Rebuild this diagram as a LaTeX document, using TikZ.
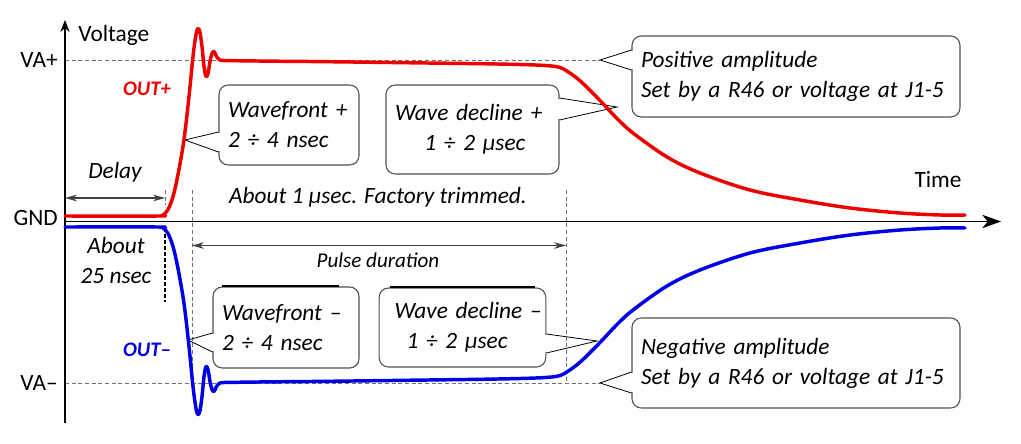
\documentclass[tikz,border=0pt]{standalone}
\usepackage{fontspec}
\setmainfont{Carlito}
\usetikzlibrary{arrows.meta, calc}
\definecolor{outred}{HTML}{EE0000}
\definecolor{outblue}{HTML}{0000E6}
\definecolor{guidegray}{HTML}{707070}
\definecolor{boxgray}{HTML}{505050}

% one pulse, x in px, height above GND in px (mirrored for OUT-)
\newcommand{\pulseshape}{plot[smooth, tension=0.55] coordinates {
  (65,5.5) (158,5.5) (163,6.5) (168,12) (173,25) (178,47) (184,82)
  (189,125) (193,165) (196,187) (198,193) (200,189) (202,175) (204,155)
  (206,145) (208,148) (210,160) (212,168) (214,170) (216,166) (219,162)
  (224,161) (235,160.8) (250,160.6) (275,160.3) (310,160) (360,159.4)
  (420,158.6) (480,157.8) (520,157) (545,156) (560,154) (572,147)
  (583,138) (600,121) (617,103) (633,88.5) (667,64.5) (700,48.5)
  (750,31.5) (800,21.5) (850,13.5) (900,8.5) (940,6.5) (965,6.5)}}

\begin{document}
\begin{tikzpicture}[
    x=0.75pt, y=-0.75pt,
    every node/.style={inner sep=0pt, font=\fontsize{17.5}{22.5}\selectfont},
    note/.style={font=\fontsize{17.5}{22.5}\selectfont\itshape},
    tag/.style={font=\fontsize{15.5}{18}\selectfont\bfseries\itshape},
    axis/.style={black, line width=1pt},
    guide/.style={guidegray, line width=0.7pt, dash pattern=on 3pt off 2pt},
    pulse/.style={line width=2.6pt, line cap=round, line join=round},
    span/.style={{Stealth[length=9pt, width=5pt]}-{Stealth[length=9pt, width=5pt]},
      black!75, line width=0.8pt},
    callout/.style={note, draw=boxgray, line width=0.8pt, rounded corners=7pt,
      align=left, inner ysep=0pt},
    ptr/.style={black, line width=0.6pt},
    erase/.style={white, line width=2pt},
  ]

  % Background / frame
  \useasboundingbox (0,0) rectangle (1021,443);

  % === Reference levels ===
  \coordinate (o) at (65,221.5);
  \coordinate (ytop) at (65,20);
  \coordinate (ybot) at (65,423);
  \coordinate (xend) at (1001,221.5);
  \coordinate (pos tip) at (600,60);
  \coordinate (neg tip) at (600,383);

  \draw[guide] (65,60) -- (pos tip);
  \draw[guide] (65,383) -- (neg tip);

  % pulse duration limits
  \coordinate (pd0) at (192,245.5);
  \coordinate (pd1) at (566,245.5);
  \draw[guide] (192,190) -- (192,380);
  \draw[guide] (566,190) -- (566,383);
  \draw[guide] (165,190) -- (165,205);

  % === Axes ===
  \draw[axis, -{Stealth[length=9pt, width=7pt, inset=3pt]}] (ybot) -- (ytop);
  \draw[axis, -{Stealth[length=14pt, width=10pt, inset=4pt]}] (o) -- (xend);

  \node[anchor=west] (voltage) at (78,35) {Voltage};
  \node (time) at (938,180) {Time};
  \node[anchor=east] (vaplus) at (58,60) {VA+};
  \node[anchor=east] (gnd) at (58,218) {GND};
  \node[anchor=east] (vaminus) at (58,383) {VA–};

  \node[tag, text=outred] (outp) at (147,89) {OUT+};
  \node[tag, text=outblue] (outm) at (147,350) {OUT–};

  % === Timing marks ===
  \coordinate (d0) at (65,198);
  \coordinate (d1) at (165,198);
  \draw[span] (d0) -- (d1);
  \node[note] (delay) at (115,172) {Delay};

  \node[note, align=center] (about25) at (116,260) {About\\25 nsec};
  \draw[black, line width=1.6pt, dash pattern=on 3pt off 1.5pt] (165,228) -- (165,302);

  \node[note] (trim) at (378,197) {About 1 µsec. Factory trimmed.};
  \draw[span] (pd0) -- (pd1);
  \node[note, font=\fontsize{15.8}{18}\selectfont\itshape] (pulse) at (378,260) {Pulse duration};

  % === Callouts ===
  % Wavefront + (pointer on the rising edge)
  \node[callout, text width=91.5pt, inner xsep=6.75pt, minimum height=60pt]
    (wfp) at (289,125) {\mbox{Wavefront +}\\2 ÷ 4 nsec};
  \coordinate (wfp tip) at (185,140);
  \draw[erase] (wfp.west |- 0,133) -- (wfp.west |- 0,151);
  \draw[ptr] (wfp.west |- 0,132) -- (wfp tip) -- (wfp.west |- 0,152);

  % Wave decline +
  \node[callout, text width=116.25pt, inner xsep=6.75pt, minimum height=66.75pt]
    (wdp) at (472.5,129.5) {\mbox{Wave decline +}\\\hspace*{22pt}1 ÷ 2 µsec};
  \coordinate (wdp tip) at (617,107);
  \draw[erase] (wdp.east |- 0,99) -- (wdp.east |- 0,119);
  \draw[ptr] (wdp.east |- 0,98) -- (wdp tip) -- (wdp.east |- 0,120);

  % Positive amplitude
  \node[callout, text width=232.5pt, inner xsep=6.75pt, minimum height=60.75pt]
    (posamp) at (796,76.5) {Positive amplitude\\Set by a R46 or voltage at J1-5};
  \draw[erase] (posamp.west |- 0,51) -- (posamp.west |- 0,69);
  \draw[ptr] (posamp.west |- 0,50) -- (pos tip) -- (posamp.west |- 0,70);

  % Wavefront -
  \node[callout, text width=96pt, inner xsep=6.75pt, minimum height=60.75pt]
    (wfm) at (286,327.5) {\mbox{Wavefront –}\\2 ÷ 4 nsec};
  \draw[black, line width=1.6pt] ($(wfm.north west)+(10,-0.5)$) -- ($(wfm.north east)+(-21,-0.5)$);
  \coordinate (wfm tip) at (188,340);
  \draw[erase] (wfm.west |- 0,334) -- (wfm.west |- 0,351);
  \draw[ptr] (wfm.west |- 0,333) -- (wfm tip) -- (wfm.west |- 0,352);

  % Wave decline -
  \node[callout, text width=118pt, inner xsep=3.5pt, minimum height=59.25pt]
    (wdm) at (462.5,327.5) {\hspace*{8pt}\mbox{Wave decline –}\\\hspace*{17pt}1 ÷ 2 µsec};
  \draw[black, line width=1.6pt] ($(wdm.north west)+(11,-0.5)$) -- ($(wdm.north east)+(-11,-0.5)$);
  \coordinate (wdm tip) at (597,341);
  \draw[erase] (wdm.east |- 0,335) -- (wdm.east |- 0,352);
  \draw[ptr] (wdm.east |- 0,334) -- (wdm tip) -- (wdm.east |- 0,353);

  % Negative amplitude
  \node[callout, text width=232.5pt, inner xsep=6.75pt, minimum height=67.5pt]
    (negamp) at (796,363) {Negative amplitude\\Set by a R46 or voltage at J1-5};
  \draw[erase] (negamp.west |- 0,373) -- (negamp.west |- 0,392);
  \draw[ptr] (negamp.west |- 0,372) -- (neg tip) -- (negamp.west |- 0,393);

  % === Output pulses ===
  \begin{scope}[shift={(0,221.5)}, yscale=-1]
    \draw[pulse, outred] \pulseshape;
  \end{scope}
  \begin{scope}[shift={(0,221.5)}]
    \draw[pulse, outblue] \pulseshape;
  \end{scope}

\end{tikzpicture}
\end{document}
